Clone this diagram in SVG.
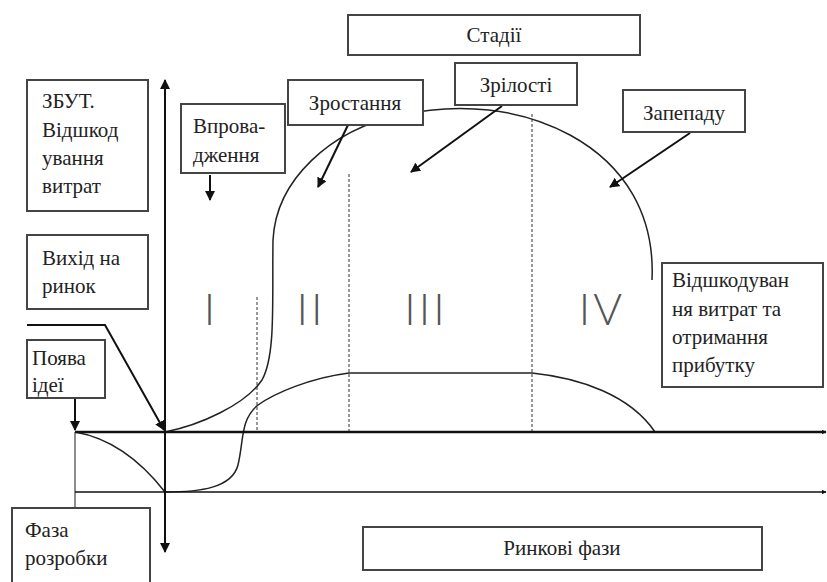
<svg xmlns="http://www.w3.org/2000/svg" width="827" height="582" viewBox="0 0 827 582">
<style>
.box{fill:#fff;stroke:#444;stroke-width:2}
.lbl{font-family:'Liberation Serif','Times New Roman','DejaVu Serif',serif;font-size:21px;fill:#222}
.mid{text-anchor:middle}
.ln{fill:none;stroke:#111;stroke-width:2}
.cv{fill:none;stroke:#222;stroke-width:1.5}
.ds{fill:none;stroke:#333;stroke-width:1;stroke-dasharray:3 2}
.rn{font-family:Lato,'Open Sans',sans-serif;font-weight:300;font-size:44px;fill:#555;text-anchor:middle;letter-spacing:3px}
</style>
<defs>
<marker id="ah" viewBox="0 0 10 10" refX="9" refY="5" markerWidth="5" markerHeight="5" orient="auto-start-reverse" markerUnits="userSpaceOnUse"><path d="M0,0 L10,5 L0,10 z" fill="#111"/></marker>
<marker id="ab" viewBox="0 0 10 10" refX="9" refY="5" markerWidth="10" markerHeight="10" orient="auto-start-reverse" markerUnits="userSpaceOnUse"><path d="M0,0 L10,5 L0,10 z" fill="#111"/></marker>
</defs>
<rect width="827" height="582" fill="#fff"/>

<g id="curves">
<path class="cv" d="M165,432 C200,425 245,405 262,380 C276,355 272,300 273,240 C276,180 330,130 400,115 C460,102 520,108 570,135 C625,165 655,215 652,280"/>
<path class="cv" d="M165,492 C200,492 232,488 238,465 C244,440 240,420 258,405 C275,393 310,378 349,373 L532,373 C580,378 630,395 655,432"/>
<path class="cv" d="M75,432 C110,438 140,460 165,492"/>
<line class="ds" x1="257" y1="297" x2="257" y2="432"/>
<line class="ds" x1="349" y1="174" x2="349" y2="432"/>
<line class="ds" x1="532" y1="114" x2="532" y2="432"/>
<line x1="75" y1="432" x2="75" y2="508" stroke="#666" stroke-width="1.5"/>
</g>

<g id="connectors">
<line class="ln" x1="165" y1="552" x2="165" y2="80" marker-start="url(#ab)" marker-end="url(#ab)"/>
<line x1="75" y1="432" x2="826" y2="432" stroke="#111" stroke-width="2.5" marker-end="url(#ah)"/>
<line x1="75" y1="492" x2="826" y2="492" stroke="#111" stroke-width="1.5" marker-end="url(#ah)"/>
<line class="ln" x1="210" y1="175" x2="210" y2="200" marker-end="url(#ab)"/>
<line class="ln" x1="348" y1="125" x2="318" y2="187" marker-end="url(#ab)"/>
<line class="ln" x1="502" y1="106" x2="411" y2="172" marker-end="url(#ab)"/>
<line class="ln" x1="690" y1="133" x2="610" y2="187" marker-end="url(#ab)"/>
<polyline class="ln" points="27,325 105,325 164,430" marker-end="url(#ab)"/>
<polyline class="ln" points="105,387 75,387 75,430" marker-end="url(#ab)"/>
</g>

<g id="stages">
<text class="rn" x="211" y="325">I</text>
<text class="rn" x="311" y="325">II</text>
<text class="rn" x="426" y="325">III</text>
<text class="rn" x="602" y="325">IV</text>
</g>

<g id="n-stadii"><rect class="box" x="348" y="15" width="292" height="40"/><text class="lbl mid" x="494" y="42">Стадії</text></g>
<g id="n-zbut"><rect class="box" x="27" y="80" width="121" height="131"/>
<text class="lbl" x="42" y="108">ЗБУТ.</text><text class="lbl" x="42" y="137">Відшкод</text><text class="lbl" x="42" y="165">ування</text><text class="lbl" x="42" y="193">витрат</text></g>
<g id="n-vprov"><rect class="box" x="181" y="104" width="104" height="69"/>
<text class="lbl" x="193" y="133">Впрова-</text><text class="lbl" x="193" y="162">дження</text></g>
<g id="n-zrost"><rect class="box" x="288" y="80" width="135" height="45"/><text class="lbl mid" x="355" y="110">Зростання</text></g>
<g id="n-zril"><rect class="box" x="455" y="63" width="122" height="42"/><text class="lbl mid" x="516" y="92">Зрілості</text></g>
<g id="n-zanep"><rect class="box" x="623" y="90" width="122" height="42"/><text class="lbl mid" x="684" y="120">Запепаду</text></g>
<g id="n-vyhid"><rect class="box" x="27" y="235" width="121" height="74"/>
<text class="lbl" x="42" y="265">Вихід на</text><text class="lbl" x="42" y="293">ринок</text></g>
<g id="n-poyava"><rect class="box" x="27" y="340" width="78" height="58"/>
<text class="lbl" x="32" y="365">Поява</text><text class="lbl" x="32" y="392">ідеї</text></g>
<g id="n-vidshk"><rect class="box" x="662" y="263" width="161" height="124"/>
<text class="lbl" x="672" y="287">Відшкодуван</text><text class="lbl" x="672" y="316">ня витрат та</text><text class="lbl" x="672" y="344">отримання</text><text class="lbl" x="672" y="372">прибутку</text></g>
<g id="n-faza"><rect class="box" x="12" y="508" width="138" height="80"/>
<text class="lbl" x="25" y="537">Фаза</text><text class="lbl" x="25" y="565">розробки</text></g>
<g id="n-rynk"><rect class="box" x="363" y="527" width="399" height="43"/><text class="lbl mid" x="562" y="555">Ринкові фази</text></g>
</svg>
